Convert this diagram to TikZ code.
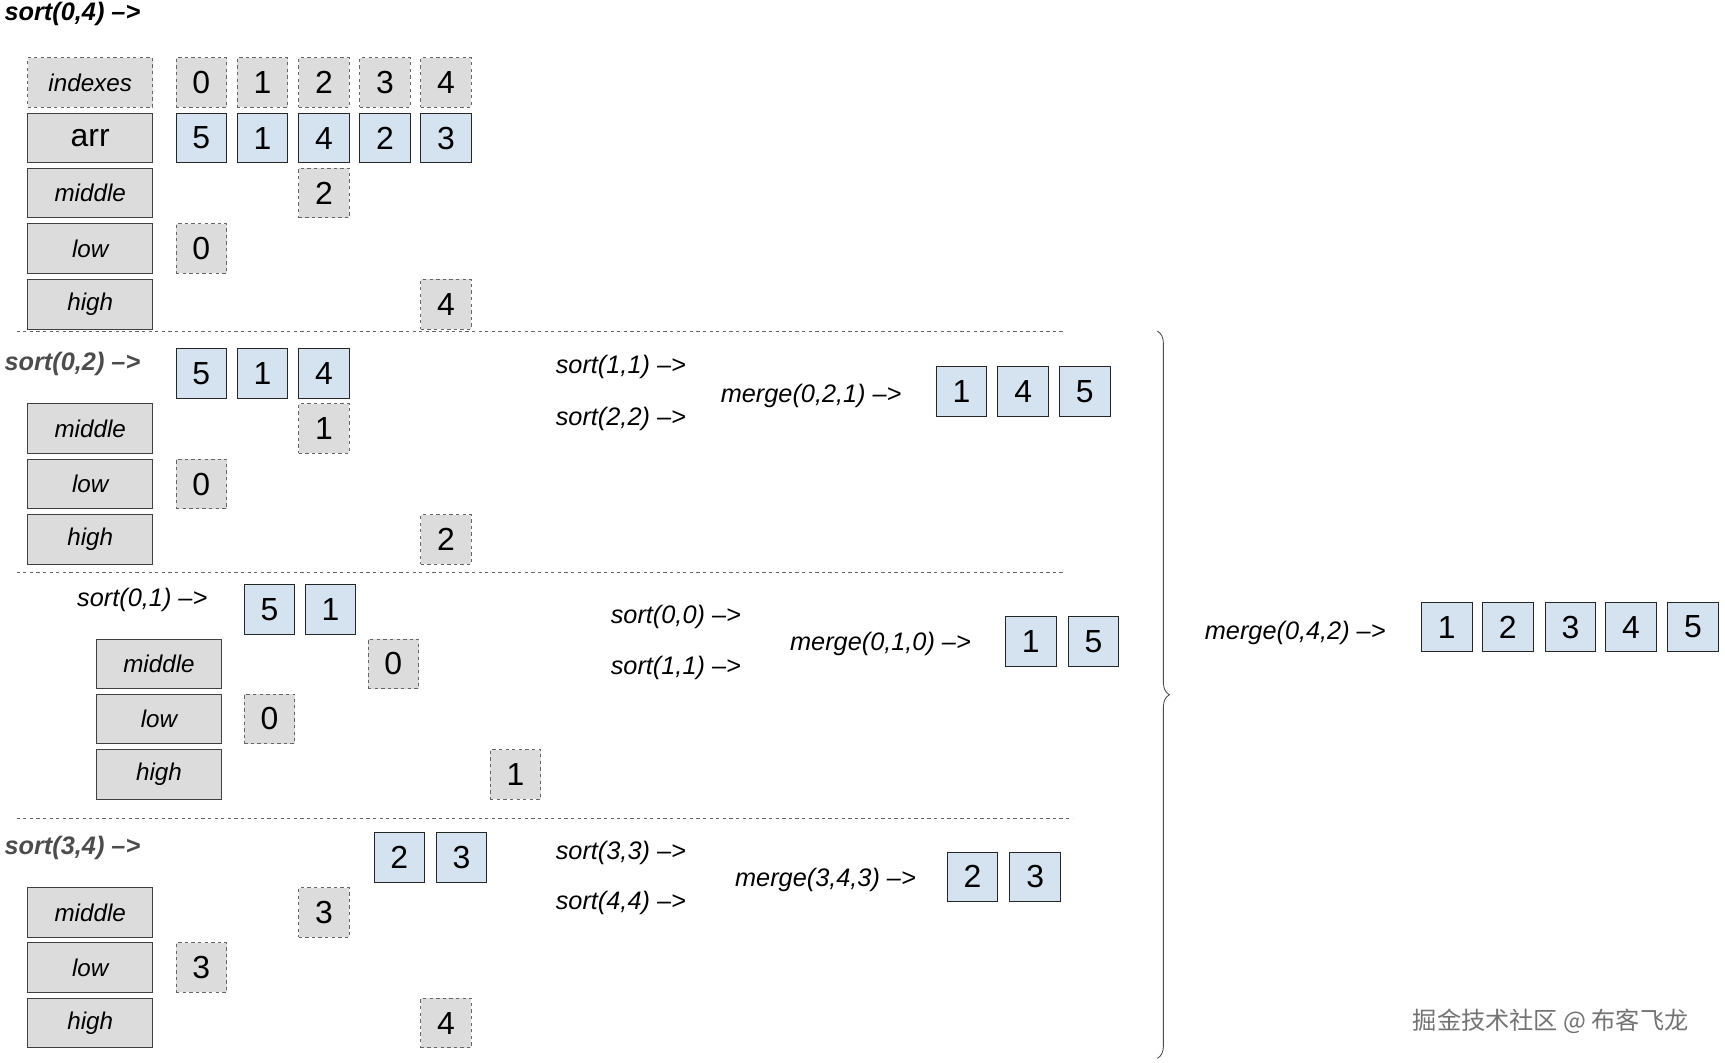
\documentclass[tikz,border=0pt]{standalone}
\usepackage{fontspec}
\setmainfont{Liberation Sans}
\newfontfamily\cjk{Noto Sans CJK SC}
\usetikzlibrary{decorations.pathreplacing}
\definecolor{cellblue}{HTML}{D5E3F1}
\definecolor{labgray}{HTML}{DCDCDC}
\begin{document}
\begin{tikzpicture}
    [x=1pt,y=-1pt,
     lbl/.style={draw=black!75,thick,fill=labgray,minimum width=114pt,minimum height=45pt,inner sep=0pt,font=\fontsize{22}{24}\selectfont\itshape},
     dlbl/.style={lbl,dashed,draw=black!60},
     cell/.style={draw=black!85,thick,fill=cellblue,minimum width=46pt,minimum height=45pt,inner sep=0pt,font=\fontsize{29}{30}\selectfont},
     dcell/.style={cell,dashed,draw=black!60,fill=labgray},
     call/.style={anchor=west,inner sep=0pt,font=\fontsize{23}{25}\selectfont\itshape},
     head/.style={call,font=\fontsize{23}{25}\selectfont\bfseries\itshape},
     sep/.style={dashed,black!60,thick}]
    \useasboundingbox (0,0) rectangle (1568,966);
    % sort(0,4)
    \node[head] (h04) at (4,13) {sort(0,4) -->};
    \node[dlbl] (ind) at (82,75) {indexes};
    \node[lbl,font=\fontsize{29}{30}\selectfont] (arr) at (82,125.5) {arr};
    \node[lbl] (mid1) at (82,175.5) {middle};
    \node[lbl] (low1) at (82,226) {low};
    \node[lbl] (hig1) at (82,276.5) {high};
    \foreach \i/\x/\v in {0/183/5,1/238.5/1,2/294.5/4,3/350/2,4/405.5/3} {
        \node[dcell] (ind\i) at (\x,75) {\i};
        \node[cell] (arr\i) at (\x,125.5) {\v};
    }
    \node[dcell] (m1) at (294.5,175.5) {2};
    \node[dcell] (l1) at (183,226) {0};
    \node[dcell] (r1) at (405.5,276.5) {4};
    \coordinate (s1a) at (15,301);
    \coordinate (s1b) at (968,301);
    \draw[sep] (s1a) -- (s1b);
    % sort(0,2)
    \node[head,black!70] (h02) at (4,331) {sort(0,2) -->};
    \foreach \i/\x/\v in {0/183/5,1/238.5/1,2/294.5/4}
        \node[cell] (a2\i) at (\x,339.5) {\v};
    \node[lbl] (mid2) at (82,389.5) {middle};
    \node[lbl] (low2) at (82,440) {low};
    \node[lbl] (hig2) at (82,490.5) {high};
    \node[dcell] (m2) at (294.5,389.5) {1};
    \node[dcell] (l2) at (183,440) {0};
    \node[dcell] (r2) at (405.5,490.5) {2};
    \node[call] (c11) at (505,334) {sort(1,1) -->};
    \node[call] (c22) at (505,381) {sort(2,2) -->};
    \node[call] (g021) at (655,360) {merge(0,2,1) -->};
    \foreach \i/\x/\v in {0/874/1,1/930/4,2/986/5}
        \node[cell] (o2\i) at (\x,356) {\v};
    \coordinate (s2a) at (15,520);
    \coordinate (s2b) at (968,520);
    \draw[sep] (s2a) -- (s2b);
    % sort(0,1)
    \node[call] (h01) at (70,545) {sort(0,1) -->};
    \node[cell] (a30) at (245,554) {5};
    \node[cell] (a31) at (300.5,554) {1};
    \node[lbl] (mid3) at (144.5,603.5) {middle};
    \node[lbl] (low3) at (144.5,653.5) {low};
    \node[lbl] (hig3) at (144.5,704) {high};
    \node[dcell] (m3) at (357.5,603.5) {0};
    \node[dcell] (l3) at (245,653.5) {0};
    \node[dcell] (r3) at (468.5,704) {1};
    \node[call] (c00) at (555,561) {sort(0,0) -->};
    \node[call] (c11b) at (555,607) {sort(1,1) -->};
    \node[call] (g010) at (718,585) {merge(0,1,0) -->};
    \node[cell] (o30) at (937,583) {1};
    \node[cell] (o31) at (994,583) {5};
    \coordinate (s3a) at (15,744);
    \coordinate (s3b) at (975,744);
    \draw[sep] (s3a) -- (s3b);
    % sort(3,4)
    \node[head,black!70] (h34) at (4,771) {sort(3,4) -->};
    \node[cell] (a40) at (363,779.5) {2};
    \node[cell] (a41) at (419.5,779.5) {3};
    \node[lbl] (mid4) at (82,829.5) {middle};
    \node[lbl] (low4) at (82,879.5) {low};
    \node[lbl] (hig4) at (82,930) {high};
    \node[dcell] (m4) at (294.5,829.5) {3};
    \node[dcell] (l4) at (183,879.5) {3};
    \node[dcell] (r4) at (405.5,930) {4};
    \node[call] (c33) at (505,775) {sort(3,3) -->};
    \node[call] (c44) at (505,821) {sort(4,4) -->};
    \node[call] (g343) at (668,800) {merge(3,4,3) -->};
    \node[cell] (o40) at (884,797) {2};
    \node[cell] (o41) at (941,797) {3};
    % final merge
    \coordinate (bt) at (1052,301);
    \coordinate (bb) at (1052,962);
    \draw[thick,black!70,decorate,decoration={brace,amplitude=11pt,aspect=0.5}] (bt) -- (bb);
    \node[call] (g042) at (1095,575) {merge(0,4,2) -->};
    \foreach \i/\x/\v in {0/1315/1,1/1370.5/2,2/1427.5/3,3/1482.5/4,4/1539/5}
        \node[cell] (f\i) at (\x,570) {\v};
    \node[anchor=west,inner sep=0pt,black!55,font=\cjk\fontsize{22}{24}\selectfont] (wm) at (1284,928) {掘金技术社区 @ 布客飞龙};
\end{tikzpicture}
\end{document}
